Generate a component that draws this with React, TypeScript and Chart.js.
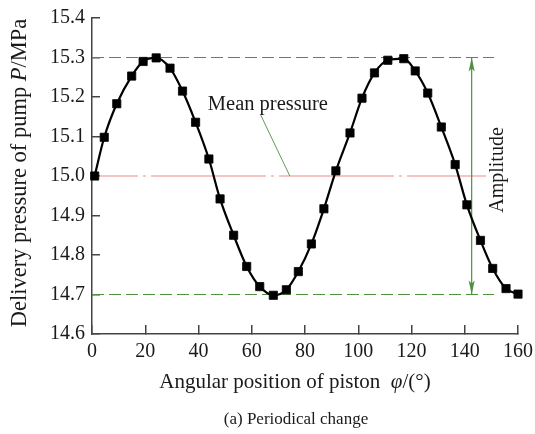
import React, { useEffect, useRef } from "react";
import { Chart, registerables } from "chart.js";

Chart.register(...registerables);

// ---- data ----
const angle = [1, 4.6, 9.3, 14.9, 19.2, 24.1, 29.3, 34.0, 38.9, 43.9, 48.1, 53.2, 58.1, 63.0, 68.1, 73.0, 77.5, 82.4, 87.1, 91.6, 96.9, 101.4, 106.1, 111.1, 117.1, 121.4, 126.1, 131.2, 136.4, 140.8, 145.9, 150.5, 155.5, 160.0];
const pressure = [15.0, 15.098, 15.183, 15.253, 15.29, 15.299, 15.273, 15.215, 15.136, 15.043, 14.942, 14.85, 14.771, 14.72, 14.698, 14.712, 14.758, 14.828, 14.917, 15.013, 15.109, 15.197, 15.261, 15.293, 15.297, 15.266, 15.21, 15.124, 15.029, 14.927, 14.837, 14.766, 14.715, 14.701];

const xTickValues = [0, 20, 40, 60, 80, 100, 120, 140, 160];
const yTickValues = [14.6, 14.7, 14.8, 14.9, 15.0, 15.1, 15.2, 15.3, 15.4];

const maxLineX = [0, 151];
const maxLineY = [15.3, 15.3];
const minLineX = [0, 151];
const minLineY = [14.7, 14.7];
const meanLineX = [0, 148];
const meanLineY = [15.0, 15.0];
const leaderX = [63.4, 74.3];
const leaderY = [15.154, 15.0];
const amplitudeX = [142.6, 142.6];
const amplitudeY = [14.7, 15.3];
const meanLabelAt = [43.5, 15.167];
const meanLabel = "Mean pressure";
const amplitudeLabel = "Amplitude";
const caption = "(a) Periodical change";

const FONT = "'Liberation Serif', 'Times New Roman', serif";
const GREEN = "#4f8f3f";
const RED = "#f08a8a";
const TEXT = "#1a1a1a";
const AXIS = "#444444";

const pts = (xs: number[], ys: number[]) => xs.map((v, i) => ({ x: v, y: ys[i] }));

type Seg = [string, boolean];
function drawMixed(ctx: CanvasRenderingContext2D, segs: Seg[], size: number, cx: number, baseY: number) {
  let total = 0;
  const widths = segs.map(([t, it]) => {
    ctx.font = `${it ? "italic " : ""}${size}px ${FONT}`;
    const w = ctx.measureText(t).width;
    total += w;
    return w;
  });
  let x = cx - total / 2;
  ctx.textAlign = "left";
  ctx.textBaseline = "alphabetic";
  segs.forEach(([t, it], i) => {
    ctx.font = `${it ? "italic " : ""}${size}px ${FONT}`;
    ctx.fillText(t, x, baseY);
    x += widths[i];
  });
}

const annotPlugin = {
  id: "annot",
  afterDatasetsDraw(chart: any) {
    const { ctx, scales } = chart;
    const x = scales.x, y = scales.y;
    ctx.save();
    // arrow heads
    const ax = x.getPixelForValue(amplitudeX[0]);
    const yTop = y.getPixelForValue(amplitudeY[1]);
    const yBot = y.getPixelForValue(amplitudeY[0]);
    ctx.fillStyle = GREEN;
    ctx.beginPath();
    ctx.moveTo(ax, yTop);
    ctx.lineTo(ax - 3, yTop + 14);
    ctx.lineTo(ax, yTop + 11);
    ctx.lineTo(ax + 3, yTop + 14);
    ctx.closePath();
    ctx.fill();
    ctx.beginPath();
    ctx.moveTo(ax, yBot);
    ctx.lineTo(ax - 3, yBot - 14);
    ctx.lineTo(ax, yBot - 11);
    ctx.lineTo(ax + 3, yBot - 14);
    ctx.closePath();
    ctx.fill();

    ctx.fillStyle = TEXT;
    // Mean pressure label
    ctx.font = `20.5px ${FONT}`;
    ctx.textAlign = "left";
    ctx.textBaseline = "alphabetic";
    ctx.fillText(meanLabel, x.getPixelForValue(meanLabelAt[0]), y.getPixelForValue(meanLabelAt[1]));

    // Amplitude (rotated)
    ctx.save();
    ctx.translate(503, 170);
    ctx.rotate(-Math.PI / 2);
    ctx.textAlign = "center";
    ctx.textBaseline = "alphabetic";
    ctx.font = `20px ${FONT}`;
    ctx.fillText(amplitudeLabel, 0, 0);
    ctx.restore();

    // Y title
    ctx.save();
    ctx.translate(26, 173);
    ctx.rotate(-Math.PI / 2);
    drawMixed(ctx, [["Delivery pressure of pump ", false], ["P", true], ["/MPa", false]], 22.5, 0, 0);
    ctx.restore();

    // X title
    drawMixed(ctx, [["Angular position of piston  ", false], ["\u03C6", true], ["/(\u00B0)", false]], 21, 295, 388);

    // caption
    drawMixed(ctx, [[caption, false]], 17, 296, 424);
    ctx.restore();
  },
};

export default function App() {
  const ref = useRef<HTMLCanvasElement>(null);
  useEffect(() => {
    if (!ref.current) return;
    const chart = new Chart(ref.current, {
      type: "scatter",
      data: {
        datasets: [
          {
            label: "pressure",
            data: pts(angle, pressure),
            showLine: true,
            borderColor: "#000000",
            borderWidth: 2.2,
            backgroundColor: "#000000",
            pointStyle: "rect",
            pointRadius: 5.8,
            pointBorderWidth: 0.8,
            pointBorderColor: "#000000",
            pointBackgroundColor: "#000000",
            cubicInterpolationMode: "monotone",
            order: 0,
            clip: false,
          } as any,
          {
            label: "max",
            data: pts(maxLineX, maxLineY),
            showLine: true,
            borderColor: GREEN,
            borderWidth: 1.2,
            borderDash: [12, 5],
            pointRadius: 0,
            order: 2,
          } as any,
          {
            label: "min",
            data: pts(minLineX, minLineY),
            showLine: true,
            borderColor: GREEN,
            borderWidth: 1.2,
            borderDash: [12, 5],
            pointRadius: 0,
            order: 2,
          } as any,
          {
            label: "mean",
            data: pts(meanLineX, meanLineY),
            showLine: true,
            borderColor: RED,
            borderWidth: 1.2,
            borderDash: [115, 5, 3, 5],
            borderDashOffset: 69,
            pointRadius: 0,
            order: 3,
          } as any,
          {
            label: "leader",
            data: pts(leaderX, leaderY),
            showLine: true,
            borderColor: GREEN,
            borderWidth: 0.9,
            pointRadius: 0,
            order: 2,
          } as any,
          {
            label: "amplitude",
            data: pts(amplitudeX, amplitudeY),
            showLine: true,
            borderColor: GREEN,
            borderWidth: 1.2,
            pointRadius: 0,
            order: 1,
          } as any,
        ],
      },
      options: {
        animation: false,
        responsive: false,
        events: [],
        layout: { padding: { top: 18, right: 17, left: 0, bottom: 0 } },
        plugins: { legend: { display: false }, tooltip: { enabled: false }, title: { display: false } },
        scales: {
          x: {
            type: "linear",
            min: 0,
            max: 160,
            afterBuildTicks: (s: any) => {
              s.ticks = xTickValues.map((v) => ({ value: v }));
            },
            afterFit: (s: any) => {
              s.height = 100;
              s.paddingLeft = 0;
              s.paddingRight = 0;
            },
            ticks: {
              color: TEXT,
              font: { family: FONT, size: 20 },
              padding: 15,
              maxRotation: 0,
              autoSkip: false,
              callback: (v: any) => String(v),
            },
            grid: { drawOnChartArea: false, tickLength: -9, color: AXIS, lineWidth: 1.5 },
            border: { display: true, color: AXIS, width: 1.5 },
          },
          y: {
            type: "linear",
            min: 14.6,
            max: 15.4,
            afterBuildTicks: (s: any) => {
              s.ticks = yTickValues.map((v) => ({ value: v }));
            },
            afterFit: (s: any) => {
              s.width = 92;
              s.paddingTop = 0;
              s.paddingBottom = 0;
            },
            ticks: {
              color: TEXT,
              font: { family: FONT, size: 20 },
              padding: 15,
              autoSkip: false,
              callback: (v: any) => Number(v).toFixed(1),
            },
            grid: { drawOnChartArea: false, tickLength: -8, color: AXIS, lineWidth: 1.5 },
            border: { display: true, color: AXIS, width: 1.5 },
          },
        },
      },
      plugins: [annotPlugin],
    } as any);
    return () => chart.destroy();
  }, []);
  return (
    <div style={{ position: "fixed", left: 0, top: 0, width: 535, height: 434, background: "#ffffff" }}>
      <canvas ref={ref} width={535} height={434} />
    </div>
  );
}
